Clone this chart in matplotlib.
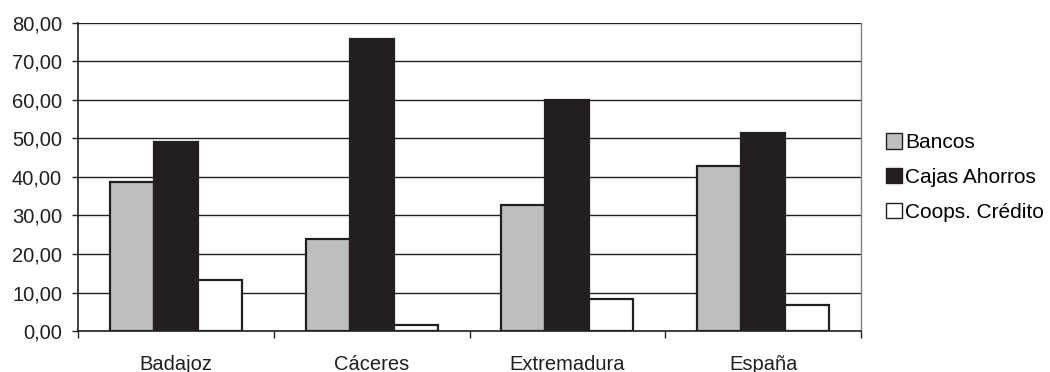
import matplotlib
matplotlib.use("Agg")
import matplotlib.pyplot as plt
import numpy as np
from matplotlib.patches import Patch
from matplotlib.ticker import FixedLocator, FuncFormatter

plt.rcParams['font.family'] = ['Liberation Sans', 'DejaVu Sans']

categories = ["Badajoz", "Cáceres", "Extremadura", "España"]
series_names = ["Bancos", "Cajas Ahorros", "Coops. Crédito"]
bancos = [38.7, 23.9, 32.7, 42.9]
cajas = [49.1, 75.8, 60.0, 51.4]
coops = [13.2, 1.5, 8.3, 6.8]
y_ticks = [0, 10, 20, 30, 40, 50, 60, 70, 80]

colors = ["#bcbec0", "#231f20", "#ffffff"]

fig = plt.figure(figsize=(10.5, 3.72), dpi=100)
ax = fig.add_axes([0.0743, 0.1102, 0.7457, 0.828])

x = np.arange(len(categories))
w = 0.225
for i, (vals, col) in enumerate(zip([bancos, cajas, coops], colors)):
    ax.bar(x + (i - 1) * w, vals, width=w, color=col, edgecolor="#231f20",
           linewidth=1.6, zorder=3)

ax.set_xlim(-0.5, len(categories) - 0.5)
ax.set_ylim(0, 80)
ax.yaxis.set_major_locator(FixedLocator(y_ticks))
ax.yaxis.set_major_formatter(FuncFormatter(lambda v, p: f"{v:.2f}".replace(".", ",")))
ax.grid(axis="y", color="#231f20", linewidth=1.0, zorder=0)
ax.set_axisbelow(True)

ax.set_xticks(x)
ax.set_xticklabels(categories)
ax.set_xticks(np.arange(-0.5, len(categories), 1.0), minor=True)
ax.tick_params(axis="x", which="major", length=0, pad=17, labelsize=14.5, colors="#231f20")
ax.tick_params(axis="x", which="minor", length=5, width=1.0, color="#231f20")
ax.tick_params(axis="y", length=4.5, width=1.0, labelsize=14.5, color="#231f20",
               labelcolor="#231f20", pad=7)

ax.spines["top"].set_visible(False)
ax.spines["right"].set_color("#808080")
ax.spines["right"].set_linewidth(1.0)
ax.spines["left"].set_color("#231f20")
ax.spines["left"].set_linewidth(1.2)
ax.spines["bottom"].set_color("#231f20")
ax.spines["bottom"].set_linewidth(1.2)

handles = [Patch(facecolor=c, edgecolor="#231f20", linewidth=1.0, label=n)
           for c, n in zip(colors, series_names)]
fig.legend(handles=handles, loc="center left", bbox_to_anchor=(0.836, 0.523),
           frameon=False, fontsize=15, handlelength=0.77, handleheight=0.77,
           handletextpad=0.15, labelspacing=0.75, borderaxespad=0)

fig.savefig("out.png", dpi=100)
